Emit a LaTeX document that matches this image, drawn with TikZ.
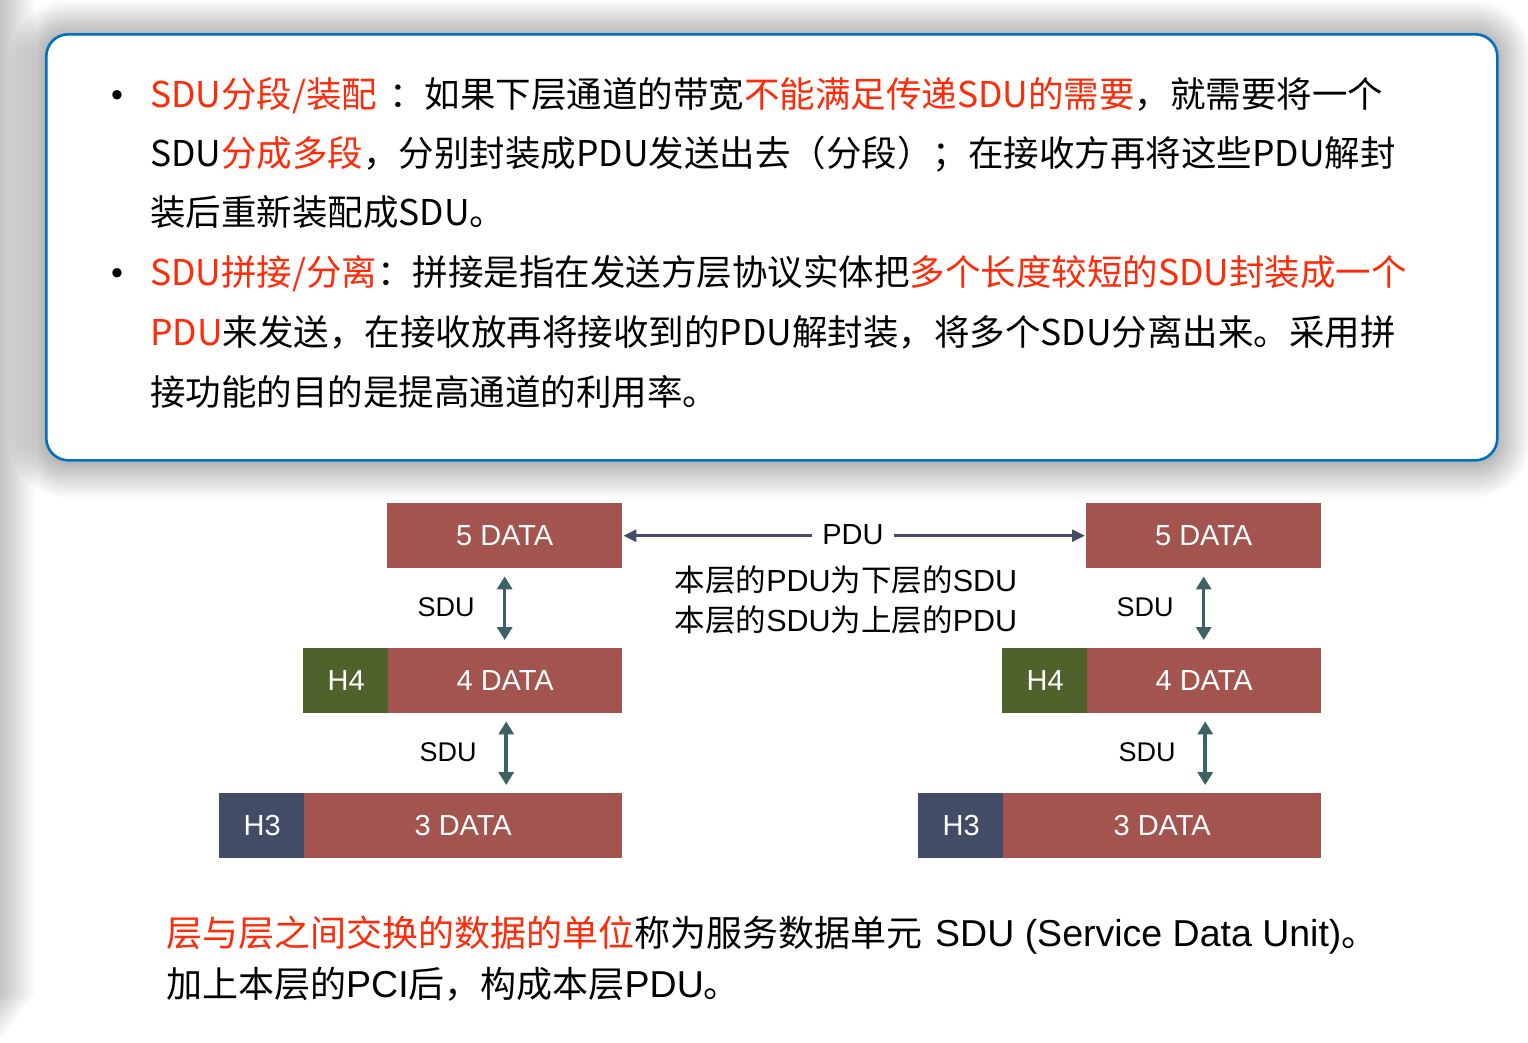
\documentclass[tikz,border=0pt]{standalone}
\usepackage{fontspec}
\setmainfont{Liberation Sans}
\newfontfamily\cjk{Noto Sans CJK SC}
\usetikzlibrary{arrows.meta}

\definecolor{framblue}{RGB}{0,112,192}
\definecolor{hired}{RGB}{255,42,8}
\definecolor{datared}{RGB}{163,84,78}
\definecolor{hfourgreen}{RGB}{79,98,44}
\definecolor{hthreenavy}{RGB}{67,76,103}
\definecolor{pduline}{RGB}{68,77,103}
\definecolor{sduteal}{RGB}{60,98,102}

\newcommand{\latin}[1]{{\rmfamily\fontsize{37.5}{37.5}\selectfont #1}}

\tikzset{
  txtline/.style={anchor=base west, inner sep=0pt, font=\cjk\fontsize{35.5}{35.5}\selectfont},
  bulletmark/.style={anchor=base west, inner sep=0pt, font=\fontsize{34}{34}\selectfont},
  blk/.style={anchor=north west, inner sep=0pt, minimum height=65pt, text=white,
              font=\fontsize{29}{29}\selectfont},
  datablk/.style={blk, fill=datared},
  hfour/.style={blk, fill=hfourgreen, minimum width=86pt},
  hthree/.style={blk, fill=hthreenavy, minimum width=86pt},
  sdulbl/.style={inner sep=0pt, font=\fontsize{27}{27}\selectfont},
  sduarrow/.style={draw=sduteal, line width=3.5pt, shorten <=8pt, shorten >=8pt,
     {Triangle[width=15pt,length=13pt]}-{Triangle[width=15pt,length=13pt]}},
  pduarrow/.style={draw=pduline, line width=2.6pt, shorten <=1pt, shorten >=1pt,
     {Triangle[width=12pt,length=13pt]}-{Triangle[width=12pt,length=13pt]}},
  bottomline/.style={anchor=base west, inner sep=0pt, font=\cjk\fontsize{36}{36}\selectfont},
}

\begin{document}
\begin{tikzpicture}[x=1pt,y=-1pt]
\useasboundingbox (0,0) rectangle (1528,1042);
\fill[white] (0,0) rectangle (1528,1042);
% soft grey edge along the left side, fading out towards the bottom
\foreach \i in {1,...,30}
  \fill[black, opacity=0.0065] (0,0) rectangle (1.2*\i, 1042-1.6*\i);

% soft shadow around the text panel, built from stacked translucent layers
\foreach \i [evaluate=\i as \r using 22+\i] in {1,...,36}
  \fill[black, opacity=0.0075, rounded corners=\r pt]
    (45-\i,36-\i) rectangle (1496+\i,462+\i);

% framed text panel
\node[draw=framblue, line width=2.6pt, rounded corners=22pt, fill=white,
      minimum width=1451pt, minimum height=426pt, anchor=north west]
      (panel) at (45,33) {};

% bullets
\node[bulletmark] (b1) at (111,106) {•};
\node[bulletmark] (b2) at (111,284) {•};

\node[txtline] (l1) at (150,107) {\textcolor{hired}{SDU分段/装配}\hspace{12pt}：如果下层通道的带宽\textcolor{hired}{不能满足传递SDU的需要}，就需要将一个};
\node[txtline] (l2) at (150,166) {SDU\textcolor{hired}{分成多段}，分别封装成PDU发送出去（分段）；在接收方再将这些PDU解封};
\node[txtline] (l3) at (150,225) {装后重新装配成SDU。};
\node[txtline] (l4) at (150,285) {\textcolor{hired}{SDU拼接/分离}：拼接是指在发送方层协议实体把\textcolor{hired}{多个长度较短的SDU封装成一个}};
\node[txtline] (l5) at (150,345) {\textcolor{hired}{PDU}来发送，在接收放再将接收到的PDU解封装，将多个SDU分离出来。采用拼};
\node[txtline] (l6) at (150,405) {接功能的目的是提高通道的利用率。};

% left protocol stack
\node[datablk, minimum width=235pt] (d5L) at (387,503) {5 DATA};
\node[hfour] (h4L) at (303,648) {H4};
\node[datablk, minimum width=234pt] (d4L) at (388,648) {4 DATA};
\node[hthree] (h3L) at (219,793) {H3};
\node[datablk, minimum width=318pt] (d3L) at (304,793) {3 DATA};

% right protocol stack
\node[datablk, minimum width=235pt] (d5R) at (1086,503) {5 DATA};
\node[hfour] (h4R) at (1002,648) {H4};
\node[datablk, minimum width=234pt] (d4R) at (1087,648) {4 DATA};
\node[hthree] (h3R) at (918,793) {H3};
\node[datablk, minimum width=318pt] (d3R) at (1003,793) {3 DATA};

% SDU passing between layers
\draw[sduarrow] (d5L.south) -- (d4L.north -| d5L.south);
\draw[sduarrow] ([xshift=1pt]d4L.south) -- ([xshift=1pt]d3L.north -| d4L.south);
\draw[sduarrow] (d5R.south) -- (d4R.north -| d5R.south);
\draw[sduarrow] ([xshift=1pt]d4R.south) -- ([xshift=1pt]d3R.north -| d4R.south);
\node[sdulbl] (s1L) at (446,607) {SDU};
\node[sdulbl] (s2L) at (448,752) {SDU};
\node[sdulbl] (s1R) at (1145,607) {SDU};
\node[sdulbl] (s2R) at (1147,752) {SDU};

% peer PDU exchange
\draw[pduarrow] (d5L.east) -- (d5R.west);
\node[fill=white, inner xsep=10pt, inner ysep=2pt, font=\fontsize{29}{29}\selectfont] (pdu) at (853,535) {PDU};

\node[align=left, inner sep=0pt, font=\fontsize{30.5}{40}\selectfont] (rel) at (846,600)
  {{\cjk 本层的}PDU{\cjk 为下层的}SDU\\{\cjk 本层的}SDU{\cjk 为上层的}PDU};

% definition text
\node[bottomline] (t1) at (166,946) {\textcolor{hired}{层与层之间交换的数据的单位}称为服务数据单元\hspace{13pt}\latin{SDU (Service Data Unit)}。};
\node[bottomline] (t2) at (166,997) {加上本层的\latin{PCI}后，构成本层\latin{PDU}。};
\end{tikzpicture}
\end{document}
